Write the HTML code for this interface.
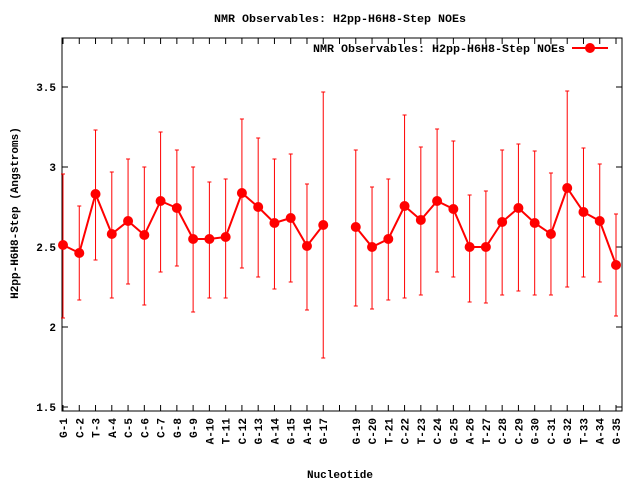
<!DOCTYPE html>
<html><head><meta charset="utf-8"><style>
html,body{margin:0;padding:0;background:#fff;width:640px;height:480px;overflow:hidden}
svg text{font-family:"Liberation Mono","DejaVu Sans Mono",monospace;font-size:11px;font-weight:bold;fill:#000}
</style></head><body>
<svg id="s" width="640" height="480" xmlns="http://www.w3.org/2000/svg">
<rect x="0" y="0" width="640" height="480" fill="#fff"/>
<rect x="62" y="38" width="560" height="373" fill="none" stroke="#000" stroke-width="1"/>
<text x="214" y="22" textLength="252" lengthAdjust="spacingAndGlyphs">NMR Observables: H2pp-H6H8-Step NOEs</text>
<text x="340" y="478" text-anchor="middle">Nucleotide</text>
<text transform="translate(18,213) rotate(-90)" text-anchor="middle">H2pp-H6H8-Step (Angstroms)</text>
<text x="313" y="52" textLength="252" lengthAdjust="spacingAndGlyphs">NMR Observables: H2pp-H6H8-Step NOEs</text>
<line x1="572" y1="48" x2="608" y2="48" stroke="#f00" stroke-width="2"/>
<circle cx="590" cy="48" r="5" fill="#f00"/>
<g id="g"></g>
</svg>
<script>
var g=document.getElementById('g'),h='';
var yt=[[1.5,407],[2,327],[2.5,247],[3,167],[3.5,87]];
yt.forEach(function(t){h+='<line x1="62" y1="'+t[1]+'" x2="68" y2="'+t[1]+'" stroke="#000"/><line x1="622" y1="'+t[1]+'" x2="616" y2="'+t[1]+'" stroke="#000"/><text x="56" y="'+(t[1]+4)+'" text-anchor="end">'+t[0]+'</text>';});
var labs=['G-1','C-2','T-3','A-4','C-5','C-6','C-7','G-8','G-9','A-10','T-11','C-12','G-13','A-14','G-15','A-16','G-17','','G-19','C-20','T-21','C-22','T-23','C-24','G-25','A-26','T-27','C-28','C-29','G-30','C-31','G-32','T-33','A-34','G-35'];
var d={1:[245,174,318],2:[253,206,300],3:[194,130,260],4:[234,172,298],5:[221,159,284],6:[235,167,305],7:[201,132,272],8:[208,150,266],9:[239,167,312],10:[239,182,298],11:[237,179,298],12:[193,119,268],13:[207,138,277],14:[223,159,289],15:[218,154,282],16:[246,184,310],17:[225,92,358],19:[227,150,306],20:[247,187,309],21:[239,179,300],22:[206,115,298],23:[220,147,295],24:[201,129,272],25:[209,141,277],26:[247,195,302],27:[247,191,303],28:[222,150,295],29:[208,144,291],30:[223,151,295],31:[234,173,295],32:[188,91,287],33:[212,148,277],34:[221,164,282],35:[265,214,316]};
function X(i){return 63+(i-1)*16.265;}
for(var i=1;i<=35;i++){var x=X(i);
 h+='<line x1="'+x+'" y1="411" x2="'+x+'" y2="405" stroke="#000"/><line x1="'+x+'" y1="38" x2="'+x+'" y2="44" stroke="#000"/>';
 if(labs[i-1])h+='<text transform="translate('+(x+4)+',418) rotate(-90)" text-anchor="end">'+labs[i-1]+'</text>';}
var p1='',p2='';
for(var k in d){var x=X(+k),v=d[k];
 h+='<line x1="'+x+'" y1="'+v[1]+'" x2="'+x+'" y2="'+v[2]+'" stroke="#f00"/><line x1="'+(x-2)+'" y1="'+v[1]+'" x2="'+(x+2)+'" y2="'+v[1]+'" stroke="#f00"/><line x1="'+(x-2)+'" y1="'+v[2]+'" x2="'+(x+2)+'" y2="'+v[2]+'" stroke="#f00"/>';
 if(+k<18)p1+=x+','+v[0]+' ';else p2+=x+','+v[0]+' ';}
h+='<polyline points="'+p1+'" fill="none" stroke="#f00" stroke-width="2"/><polyline points="'+p2+'" fill="none" stroke="#f00" stroke-width="2"/>';
for(var k in d){h+='<circle cx="'+X(+k)+'" cy="'+d[k][0]+'" r="5" fill="#f00"/>';}
g.innerHTML=h;
</script>
</body></html>
